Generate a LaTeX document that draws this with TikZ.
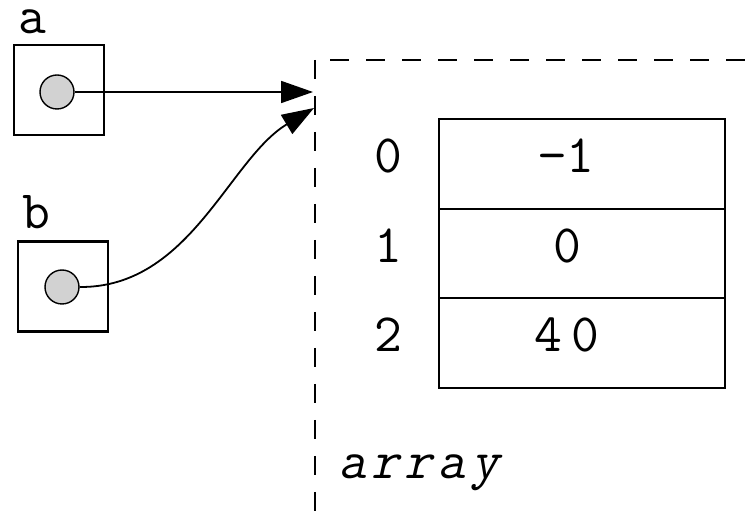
\documentclass[tikz,border=0pt]{standalone}
\usepackage{fontspec}
\newfontfamily\ttslant{Latin Modern Mono}[FakeSlant=0.22, LetterSpace=10]
\usetikzlibrary{arrows.meta}
\tikzset{
  lbl/.style={font=\ttfamily\fontsize{54}{64}\selectfont, anchor=base, inner sep=0pt},
  varbox/.style={draw, line width=2.6pt, minimum width=90pt, minimum height=90pt, inner sep=0pt},
  ptr/.style={draw, circle, line width=1.4pt, fill=gray!35, minimum size=34pt, inner sep=0pt},
  cell/.style={draw, line width=2.4pt, minimum width=286pt, minimum height=89.5pt, inner sep=0pt},
  frame/.style={line width=2.4pt, dash pattern=on 19pt off 17pt},
  link/.style={line width=1.8pt, -{Triangle[length=32pt,width=22pt]}}
}
\begin{document}
\begin{tikzpicture}[x=1pt,y=-1pt]
\useasboundingbox (0,0) rectangle (756,518);
% variables
\node[lbl] (la) at (32,34) {a};
\node[varbox] (boxa) at (59,90) {};
\node[ptr] (pa) at (57,92) {};
\node[lbl] (lb) at (36,229) {b};
\node[varbox] (boxb) at (63,286.5) {};
\node[ptr] (pb) at (62,287) {};
% dashed frame
\coordinate (fv1) at (315,60);
\coordinate (fv2) at (315,518);
\coordinate (fh1) at (330,60);
\coordinate (fh2) at (756,60);
\draw[frame] (fv1) -- (fv2);
\draw[frame] (fh1) -- (fh2);
% arrows
\coordinate (ta) at (313,92);
\coordinate (tb) at (314,108);
\draw[link] (pa.east) -- (ta);
\draw[link] (pb.east) .. controls (190,288) and (229,159) .. (tb);
% table
\node[cell] (c0) at (582,164) {};
\node[cell] (c1) at (582,253.5) {};
\node[cell] (c2) at (582,343) {};
\node[lbl] (i0) at (388,173) {0};
\node[lbl] (i1) at (388,262.5) {1};
\node[lbl] (i2) at (388,352) {2};
\node[lbl] (v0) at (566,173) {−1};
\node[lbl] (v1) at (567,262.5) {0};
\node[lbl] (v2) at (567,352) {4\,0};
\node[lbl, anchor=base west, font=\ttslant\fontsize{54}{64}\selectfont] (arr) at (338,479) {array};
\end{tikzpicture}
\end{document}
